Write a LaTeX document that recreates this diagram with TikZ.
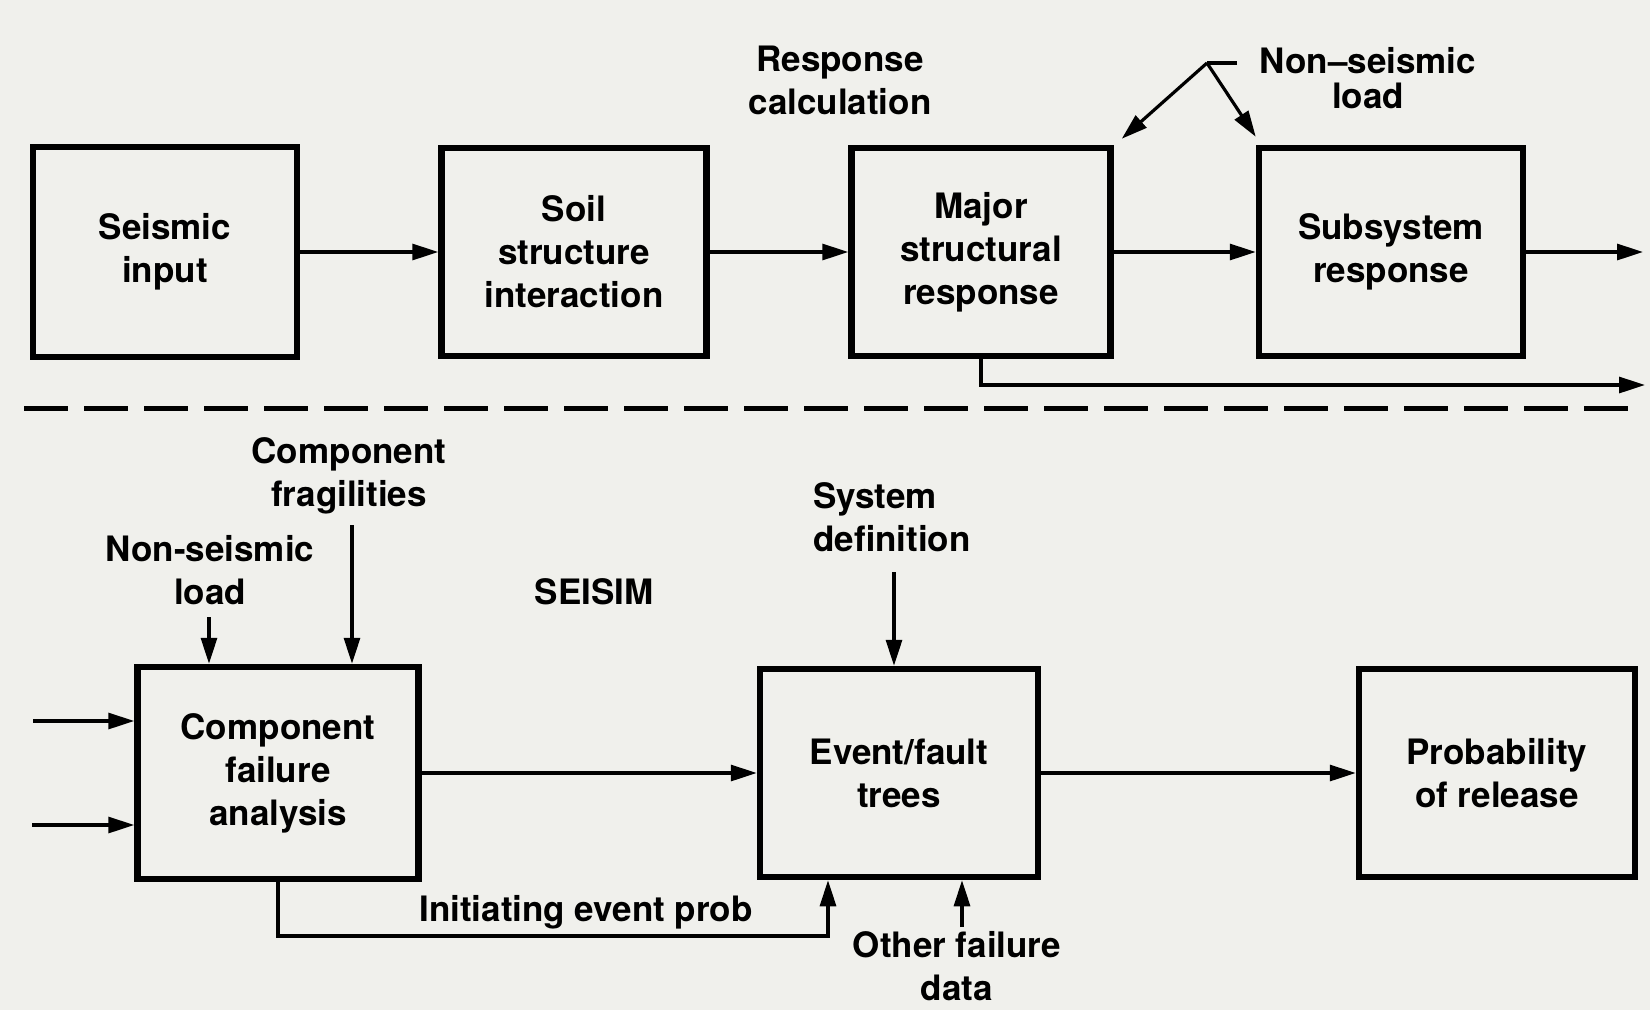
\documentclass[tikz,border=0pt]{standalone}
\usepackage{fontspec}
\setmainfont{TeX Gyre Heros}
\usetikzlibrary{arrows.meta,calc}
\definecolor{paper}{RGB}{240,240,236}
\begin{document}
\begin{tikzpicture}[x=1pt,y=-1pt,
  every node/.style={font=\bfseries\fontsize{35}{43}\selectfont, align=center, inner sep=2pt},
  box/.style={draw, line width=6.5pt, inner sep=0pt},
  conn/.style={line width=3.2pt, -{Triangle[length=26pt,width=16pt]}},
  plainline/.style={line width=3.2pt},
  divider/.style={line width=5pt, dash pattern=on 44pt off 16pt},
]
\useasboundingbox[fill=paper] (0,0) rectangle (1650,1010);

% top row
\node[box, minimum width=264pt, minimum height=210pt] (seis) at (165,252) {Seismic\\input};
\node[box, minimum width=265pt, minimum height=208pt] (soil) at (574,252) {Soil\\structure\\interaction};
\node[box, minimum width=259pt, minimum height=208pt] (major) at (981,252) {Major\\structural\\response};
\node[box, minimum width=264pt, minimum height=208pt] (sub) at (1391,252) {Subsystem\\response};

\node (resp) at (840,80) {Response\\calculation};
\node[font=\bfseries\fontsize{35}{35}\selectfont] (nslTop) at (1368,78) {Non–seismic\\load};

\coordinate (apex) at (1207,63);
\coordinate (tick) at (1237,63);
\coordinate (outS) at (1643,252);
\coordinate (outR) at (1645,385);

\draw[conn] (seis.east) -- (soil.west);
\draw[conn] (soil.east) -- (major.west);
\draw[conn] (major.east) -- (sub.west);
\draw[conn] (sub.east) -- (outS);
\draw[conn] (major.south) |- (outR);
\draw[plainline] (tick) -- (apex);
\draw[conn] (apex) -- ([shift={(8,-6)}]major.north east);
\draw[conn] (apex) -- ([shift={(0,-8)}]sub.north west);

% divider
\coordinate (dl) at (24,408);
\coordinate (dr) at (1639,408);
\draw[divider] (dl) -- (dr);

% bottom row
\node[box, minimum width=281pt, minimum height=212pt] (comp) at (278,773) {Component\\failure\\analysis};
\node[box, minimum width=278pt, minimum height=208pt] (event) at (899,773) {Event/fault\\trees};
\node[box, minimum width=276pt, minimum height=208pt] (prob) at (1497,773) {Probability\\of release};

\node (frag) at (349,476) {Component\\fragilities};
\node (nsl) at (210,570) {Non-seismic\\load};
\node (seisim) at (594,592) {SEISIM};
\node[align=left, anchor=west] (sysdef) at (811,517) {System\\definition};
\node (ofd) at (957,966) {Other failure\\data};
\node (iep) at (586,912) {Initiating event prob};

\coordinate (nslA) at (209,617);
\coordinate (fragA) at (352,525);
\coordinate (sdA) at (894,572);
\coordinate (ofdA) at (962,927);
\coordinate (in1) at (33,721);
\coordinate (in2) at (32,825);
\coordinate (ieR) at (828,936);

\draw[conn] (nslA) -- (nslA |- comp.north);
\draw[conn] (fragA) -- (fragA |- comp.north);
\draw[conn] (sdA) -- (sdA |- event.north);
\draw[conn] (ofdA) -- (ofdA |- event.south);
\draw[conn] (in1) -- (in1 -| comp.west);
\draw[conn] (in2) -- (in2 -| comp.west);
\draw[conn] (comp.east) -- (event.west);
\draw[conn] (event.east) -- (prob.west);
\draw[conn] (comp.south) |- (ieR) -- (ieR |- event.south);
\end{tikzpicture}
\end{document}
